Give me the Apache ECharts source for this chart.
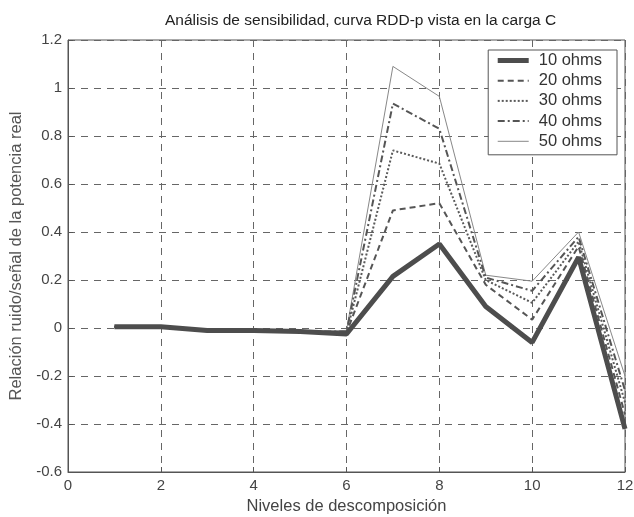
<!DOCTYPE html>
<html>
<head>
<meta charset="utf-8">
<script src="https://cdn.jsdelivr.net/npm/echarts@6/dist/echarts.min.js"></script>
<style>
  html, body { margin: 0; padding: 0; background: #fff; }
  #chart { width: 634px; height: 517px; }
</style>
</head>
<body>
<div id="chart"></div>
<script>
// Decomposition levels (x) and noise/signal ratio for each load resistance
const levels = [1, 2, 3, 4, 5, 6, 7, 8, 9, 10, 11, 12];
const ohms10 = [0.005, 0.005, -0.01, -0.01, -0.015, -0.025, 0.215, 0.35, 0.09, -0.06, 0.295, -0.42];
const ohms20 = [0.005, 0.005, -0.01, -0.01, -0.015, -0.02, 0.49, 0.52, 0.18, 0.035, 0.34, -0.36];
const ohms30 = [0.005, 0.005, -0.01, -0.01, -0.015, -0.02, 0.74, 0.685, 0.2, 0.105, 0.36, -0.31];
const ohms40 = [0.005, 0.005, -0.01, -0.01, -0.015, -0.015, 0.935, 0.83, 0.21, 0.155, 0.38, -0.26];
const ohms50 = [0.005, 0.005, -0.01, -0.01, -0.015, -0.01, 1.09, 0.965, 0.22, 0.195, 0.40, -0.2];
const seriesNames = ['10 ohms', '20 ohms', '30 ohms', '40 ohms', '50 ohms'];
const xTicks = [0, 2, 4, 6, 8, 10, 12];
const yTicks = [-0.6, -0.4, -0.2, 0, 0.2, 0.4, 0.6, 0.8, 1, 1.2];

const pairs = vals => levels.map((x, i) => [x, vals[i]]);
const styles = [
  { width: 5, color: '#4d4d4d', type: 'solid' },
  { width: 2, color: '#555555', type: [6, 4] },
  { width: 2, color: '#5a5a5a', type: [2, 2] },
  { width: 2, color: '#555555', type: [7, 3, 2, 3] },
  { width: 1, color: '#888888', type: 'solid' }
];
const allValues = [ohms10, ohms20, ohms30, ohms40, ohms50];

const font = 'Liberation Sans, Arial, sans-serif';
const chart = echarts.init(document.getElementById('chart'), null, { renderer: 'canvas' });
chart.setOption({
  backgroundColor: '#fff',
  animation: false,
  title: {
    text: 'Análisis de sensibilidad, curva RDD-p vista en la carga C',
    left: 160,
    top: 8,
    textStyle: { fontFamily: font, fontSize: 15.5, fontWeight: 'normal', color: '#222' }
  },
  grid: {
    left: 68, right: 9, top: 40, bottom: 45,
    containLabel: false, outerBoundsMode: 'none',
    show: true, borderColor: '#555', borderWidth: 1, backgroundColor: '#fff'
  },
  legend: {
    orient: 'vertical',
    right: 17, top: 50,
    padding: [2, 15, 5, 7],
    itemWidth: 31, itemHeight: 12, itemGap: 3.2,
    backgroundColor: '#fff', borderColor: '#555', borderWidth: 1, borderRadius: 0,
    itemStyle: { opacity: 0 },
    textStyle: { fontFamily: font, fontSize: 16.5, color: '#333', padding: [0, 0, 0, 5] },
    data: seriesNames.map((n, i) => ({
      name: n,
      lineStyle: { width: styles[i].width, type: styles[i].type, color: styles[i].color }
    }))
  },
  xAxis: {
    type: 'value', min: 0, max: 12, interval: 2,
    name: 'Niveles de descomposición', nameLocation: 'middle', nameGap: 25,
    nameTextStyle: { fontFamily: font, fontSize: 16.5, color: '#444' },
    axisLine: { onZero: false, lineStyle: { color: '#555' } },
    axisTick: { inside: true, length: 5, lineStyle: { color: '#555' } },
    axisLabel: { fontFamily: font, fontSize: 15, color: '#444', margin: 6,
      formatter: v => xTicks.includes(v) ? String(v) : '' },
    splitLine: { show: true, lineStyle: { color: '#666', type: [7, 6], width: 1 } }
  },
  yAxis: {
    type: 'value', min: -0.6, max: 1.2, interval: 0.2,
    name: 'Relación ruido/señal de la potencia real', nameLocation: 'middle', nameGap: 35,
    nameTextStyle: { fontFamily: font, fontSize: 16.5, color: '#555' },
    axisLine: { show: true, onZero: false, lineStyle: { color: '#555' } },
    axisTick: { show: true, inside: true, length: 5, lineStyle: { color: '#555' } },
    axisLabel: { fontFamily: font, fontSize: 15, color: '#444', margin: 6,
      formatter: v => {
        const r = Math.round(v * 10) / 10;
        return yTicks.some(t => Math.abs(t - r) < 1e-9) ? String(r) : '';
      } },
    splitLine: { show: true, lineStyle: { color: '#666', type: [7, 6], width: 1 } }
  },
  series: seriesNames.map((n, i) => ({
    name: n,
    type: 'line',
    data: pairs(allValues[i]),
    symbol: 'none',
    z: 10 - i,
    lineStyle: styles[i],
    itemStyle: { color: styles[i].color }
  }))
});
</script>
</body>
</html>
